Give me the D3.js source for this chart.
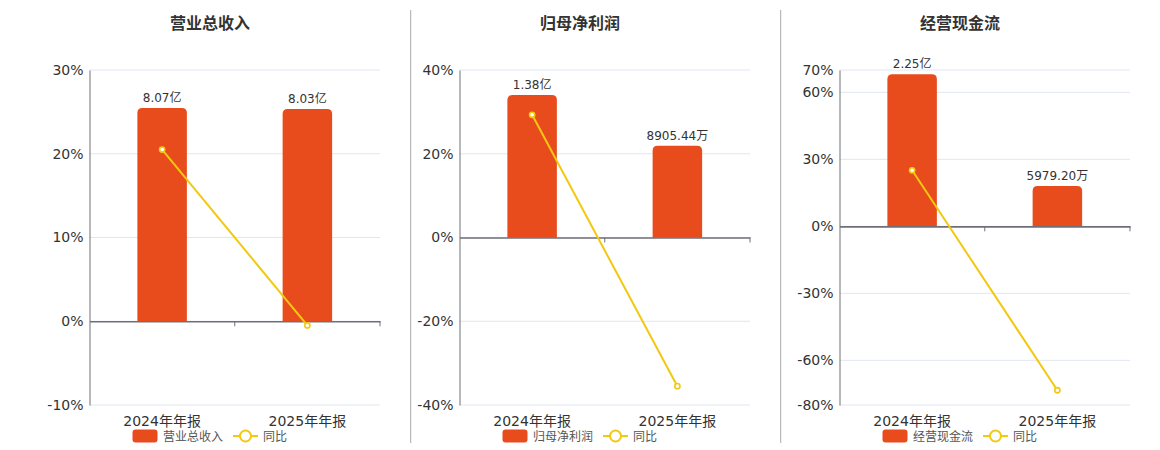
<!DOCTYPE html>
<html><head><meta charset="utf-8">
<script src="https://cdn.jsdelivr.net/npm/d3@7/dist/d3.min.js"></script>
<style>
html,body{margin:0;padding:0;background:#fff;}
svg{display:block;font-family:"DejaVu Sans","Noto Sans CJK SC",sans-serif;}
</style></head>
<body>
<svg id="chart" width="1160" height="450"></svg>
<script>
// ---- data ----
const categories = ["2024年年报", "2025年年报"];
const titles = ["营业总收入", "归母净利润", "经营现金流"];
const barValues = [[8.07, 8.03], [1.38, 0.890544], [2.25, 0.597920]]; // 亿
const barLabels = [["8.07亿", "8.03亿"], ["1.38亿", "8905.44万"], ["2.25亿", "5979.20万"]];
const yoyValues = [[20.5, -0.5], [29.3, -35.5], [25.1, -73.4]]; // %
const pctDomains = [[-10, 30], [-40, 40], [-80, 70]];
const pctTicks = [[-10, 0, 10, 20, 30], [-40, -20, 0, 20, 40], [-80, -60, -30, 0, 30, 60, 70]];
const barDomains = [[-3.18, 9.51], [-1.618, 1.622], [-2.645, 2.314]];
const legendNames = ["营业总收入", "归母净利润", "经营现金流"];
const yoyName = "同比";

// ---- layout ----
const panelOffsets = [0, 370, 750];
const dividers = [410.7, 780.7];
const plotLeft = 89.5, plotRight = 380, plotTop = 70, plotBottom = 405;
const barColor = "#E84C1C", lineColor = "#F2C811", axisColor = "#6E7079", gridColor = "#E0E6F1", textColor = "#333";

const svg = d3.select("#chart");

dividers.forEach(x => {
  svg.append("line").attr("x1", x).attr("x2", x).attr("y1", 10).attr("y2", 443)
    .attr("stroke", "#aaa").attr("stroke-width", 1);
});

function roundTopRect(x, y, w, h, r) {
  r = Math.min(r, h, w / 2);
  return `M${x},${y + h}V${y + r}Q${x},${y} ${x + r},${y}H${x + w - r}Q${x + w},${y} ${x + w},${y + r}V${y + h}Z`;
}

titles.forEach((title, i) => {
  const ox = panelOffsets[i];
  const g = svg.append("g").attr("transform", `translate(${ox},0)`);

  g.append("text").attr("x", 210).attr("y", 23).attr("text-anchor", "middle")
    .attr("dominant-baseline", "central").attr("font-size", 16).attr("font-weight", "bold")
    .attr("fill", textColor).text(title);

  const y = d3.scaleLinear().domain(pctDomains[i]).range([plotBottom, plotTop]);
  const yb = d3.scaleLinear().domain(barDomains[i]).range([plotBottom, plotTop]);
  const x = d3.scaleBand().domain(categories).range([plotLeft, plotRight]);
  const zeroY = y(0);

  // grid
  g.selectAll(".grid").data(pctTicks[i]).enter().append("line")
    .attr("x1", plotLeft).attr("x2", plotRight)
    .attr("y1", d => y(d)).attr("y2", d => y(d))
    .attr("stroke", gridColor).attr("stroke-width", 1);

  // y axis
  const yAxis = d3.axisLeft(y).tickValues(pctTicks[i]).tickSize(0).tickPadding(6).tickFormat(d => d + "%");
  const ya = g.append("g").attr("transform", `translate(${plotLeft},0)`).call(yAxis);
  ya.select(".domain").attr("stroke", axisColor).attr("stroke-width", 1);
  ya.selectAll("text").attr("font-size", 14).attr("fill", textColor)
    .attr("font-family", "DejaVu Sans, Noto Sans CJK SC, sans-serif");

  // bars
  const bw = 49.5;
  g.selectAll(".bar").data(barValues[i]).enter().append("path")
    .attr("d", (d, j) => {
      const cx = x(categories[j]) + x.bandwidth() / 2;
      const top = yb(d), base = yb(0);
      return roundTopRect(cx - bw / 2, top, bw, base - top, 5);
    })
    .attr("fill", barColor);

  // bar labels
  g.selectAll(".blabel").data(barValues[i]).enter().append("text")
    .attr("x", (d, j) => x(categories[j]) + x.bandwidth() / 2)
    .attr("y", d => yb(d) - 6)
    .attr("text-anchor", "middle").attr("font-size", 12).attr("fill", textColor)
    .text((d, j) => barLabels[i][j]);

  // x axis at zero
  const xAxis = d3.axisBottom(x).tickSize(0).tickFormat("");
  const xa = g.append("g").attr("transform", `translate(0,${zeroY})`).call(xAxis);
  xa.select(".domain").attr("stroke", axisColor).attr("stroke-width", 1.6);
  // boundary ticks
  const bounds = categories.map(c => x(c) + x.bandwidth()).concat([]);
  g.selectAll(".btick").data(bounds).enter().append("line")
    .attr("x1", d => d).attr("x2", d => d).attr("y1", zeroY).attr("y2", zeroY + 5)
    .attr("stroke", axisColor).attr("stroke-width", 1);

  // category labels at bottom
  g.selectAll(".xlabel").data(categories).enter().append("text")
    .attr("x", d => x(d) + x.bandwidth() / 2).attr("y", 420.5)
    .attr("text-anchor", "middle").attr("dominant-baseline", "central")
    .attr("font-size", 14).attr("fill", textColor).text(d => d);

  // line
  const line = d3.line().x((d, j) => x(categories[j]) + x.bandwidth() / 2).y(d => y(d));
  g.append("path").datum(yoyValues[i]).attr("d", line)
    .attr("fill", "none").attr("stroke", lineColor).attr("stroke-width", 2);
  g.selectAll(".pt").data(yoyValues[i]).enter().append("circle")
    .attr("cx", (d, j) => x(categories[j]) + x.bandwidth() / 2).attr("cy", d => y(d))
    .attr("r", 2.6).attr("fill", "#fff").attr("stroke", lineColor).attr("stroke-width", 1.6);

  // legend
  g.append("rect").attr("x", 132.5).attr("y", 429.5).attr("width", 25).attr("height", 13)
    .attr("rx", 3).attr("fill", barColor);
  g.append("text").attr("x", 163).attr("y", 436.5).attr("dominant-baseline", "central")
    .attr("font-size", 12).attr("fill", "#555").text(legendNames[i]);
  g.append("line").attr("x1", 233).attr("x2", 258).attr("y1", 436).attr("y2", 436)
    .attr("stroke", lineColor).attr("stroke-width", 2);
  g.append("circle").attr("cx", 245.5).attr("cy", 436).attr("r", 5.5)
    .attr("fill", "#fff").attr("stroke", lineColor).attr("stroke-width", 2);
  g.append("text").attr("x", 263).attr("y", 436.5).attr("dominant-baseline", "central")
    .attr("font-size", 12).attr("fill", "#555").text(yoyName);
});
</script>
</body></html>
